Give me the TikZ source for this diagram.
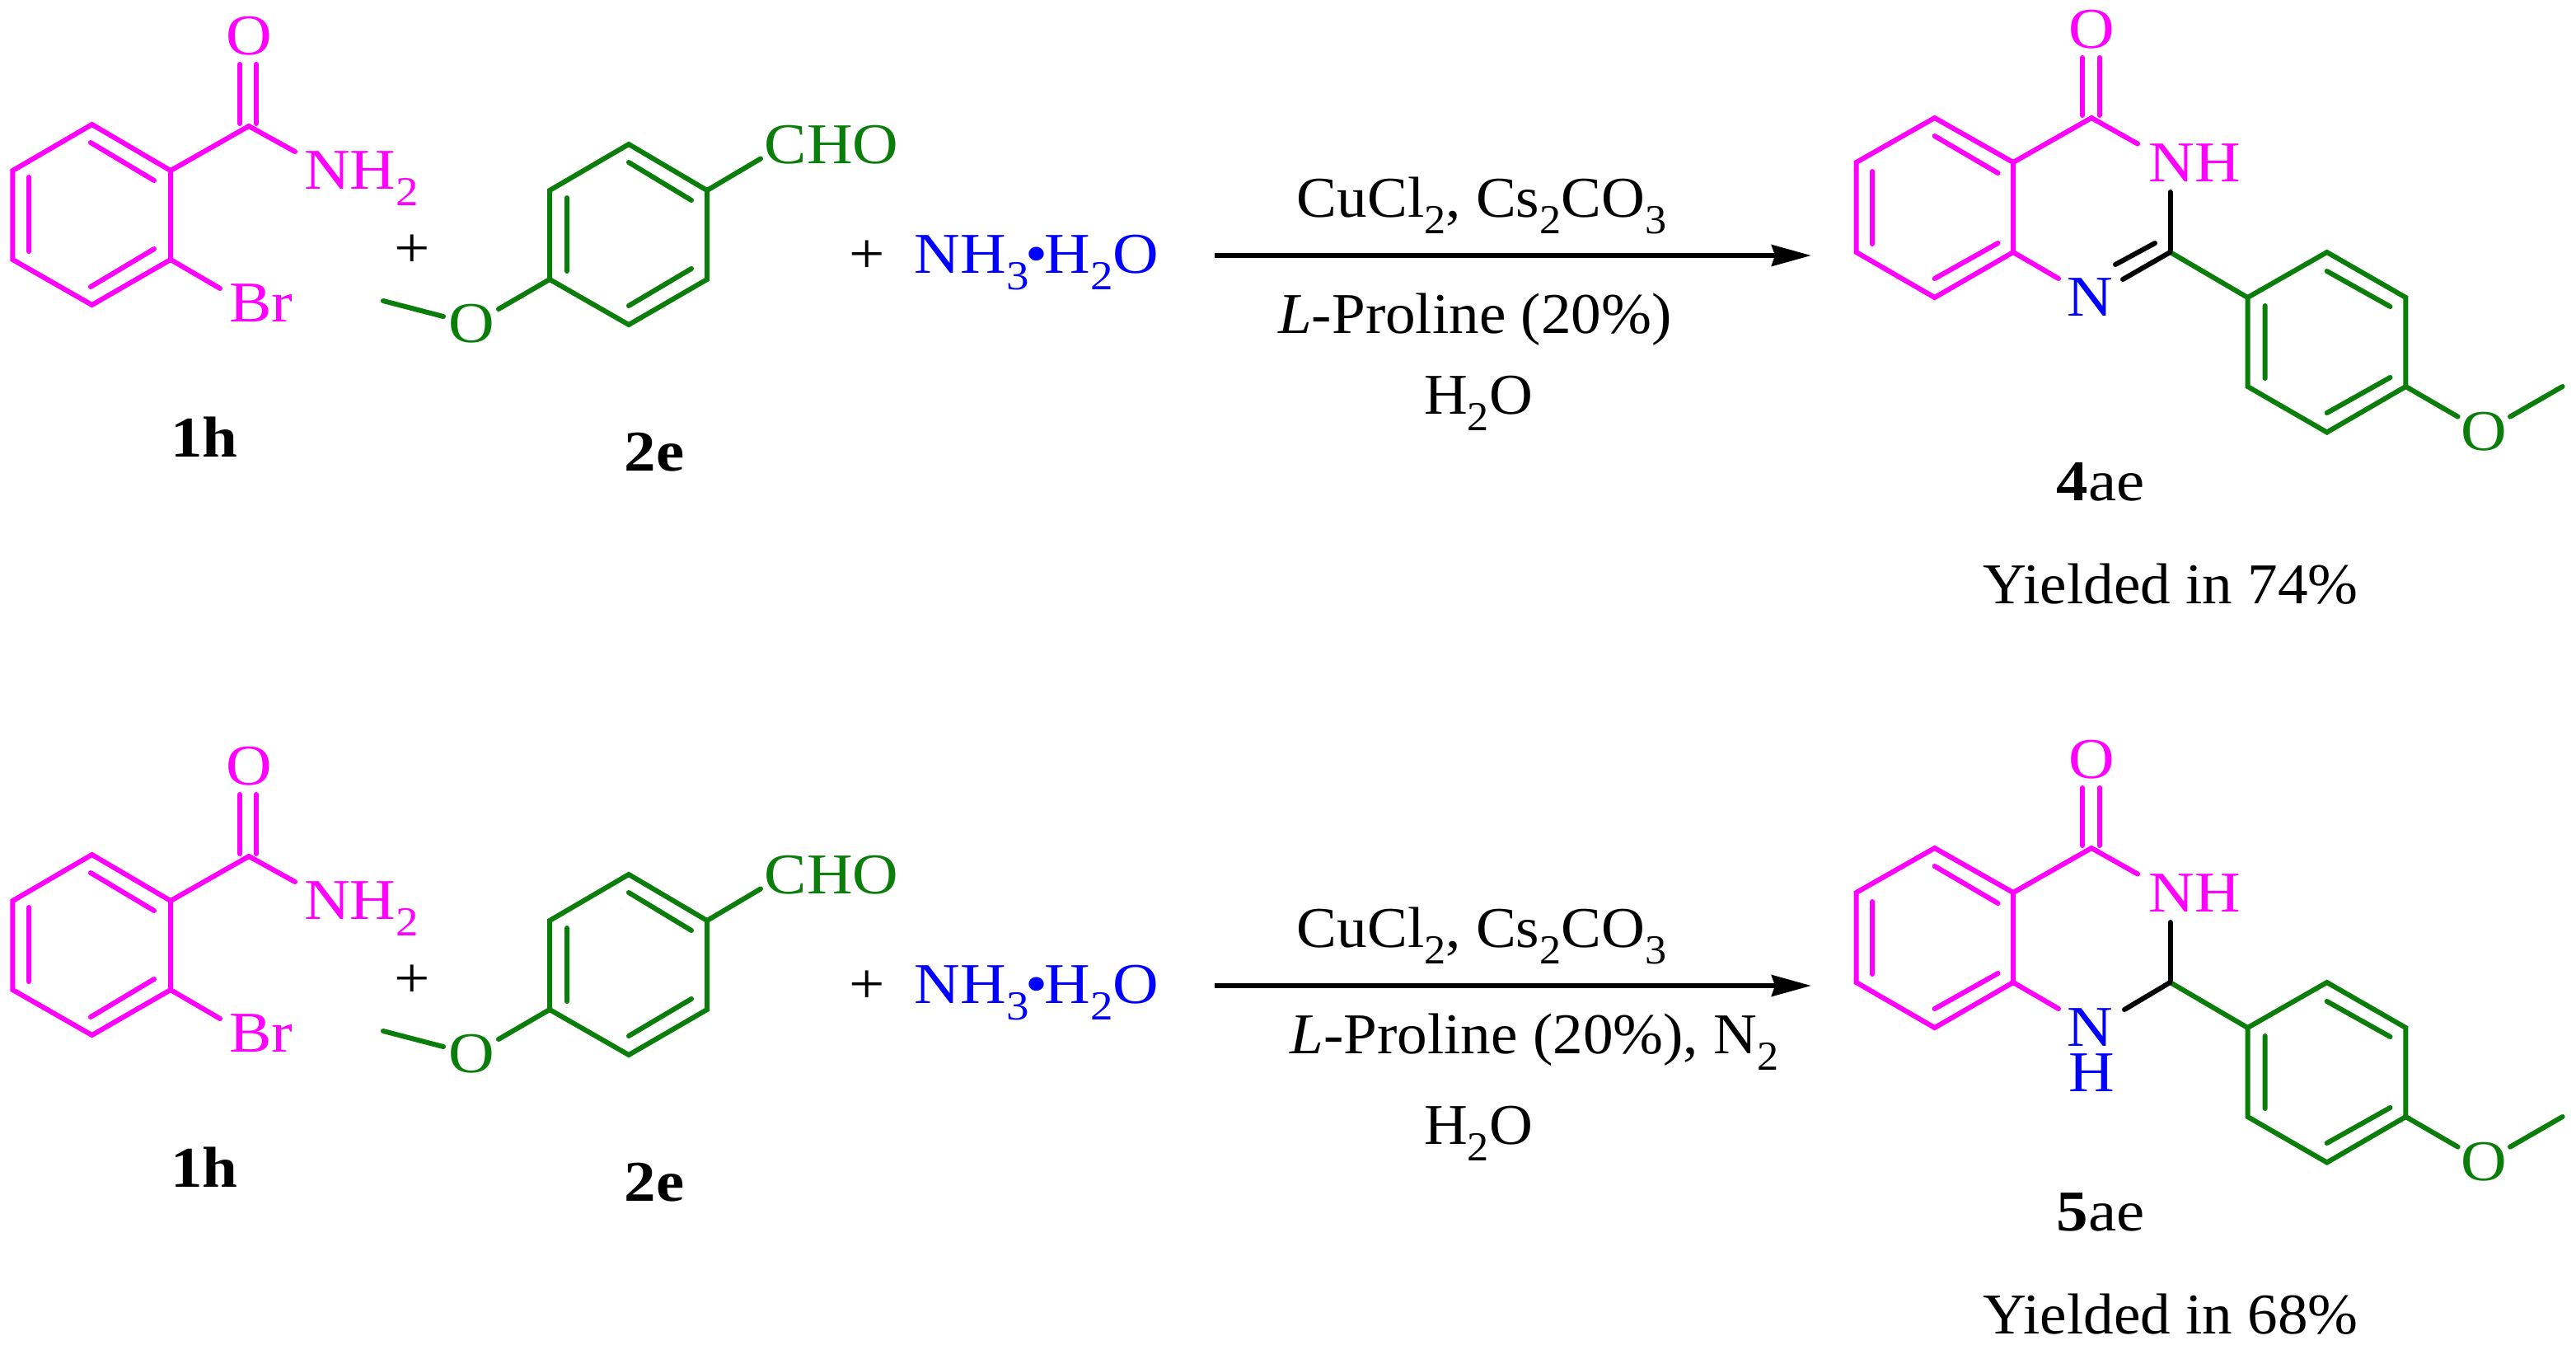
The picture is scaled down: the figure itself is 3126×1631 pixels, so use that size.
\documentclass[tikz,border=0pt]{standalone}
\usepackage{fontspec}
\setmainfont[FakeStretch=1.1]{Liberation Serif}
\newfontfamily\txtfont[FakeStretch=1.045]{Liberation Serif}
\usetikzlibrary{arrows.meta}
\definecolor{cmag}{RGB}{255,0,255}
\definecolor{cgrn}{RGB}{10,125,10}
\definecolor{cblu}{RGB}{0,0,255}
\newcommand{\sbs}[1]{\raisebox{-5pt}{\fontsize{12.5pt}{12.5pt}\selectfont #1}}
\tikzset{
  lab/.style={anchor=base,inner sep=0pt,outer sep=0pt,font=\fontsize{17.5pt}{20pt}\selectfont},
  txt/.style={lab,font=\fontsize{17.5pt}{20pt}\selectfont\txtfont},
  bond/.style={line width=1.5pt,line cap=round,line join=miter},
  mag/.style={bond,draw=cmag},
  grn/.style={bond,draw=cgrn},
  blk/.style={bond,draw=black},
  rxn/.style={line width=1.5pt,draw=black,-{Stealth[length=12pt,width=6.4pt,inset=1pt]}}
}
\newcommand{\commonrow}{%
  % reactant 1h
  \coordinate (r1) at (111.6,151); \coordinate (r2) at (207,207); \coordinate (r3) at (207,315);
  \coordinate (r4) at (111.6,370); \coordinate (r5) at (15.4,315); \coordinate (r6) at (15.4,207);
  \coordinate (cc) at (302,153);
  \draw[mag] (r1)--(r2)--(r3)--(r4)--(r5)--(r6)--cycle;
  \draw[mag] (110,173)--(187,219) (35,215)--(35,305) (110,348)--(187,302);
  \draw[mag] (r2)--(cc);
  \draw[mag] (291,78)--(291,150) (311,78)--(311,150);
  \coordinate (nhend) at (358,184); \coordinate (brend) at (267,350);
  \draw[mag] (cc)--(nhend);
  \draw[mag] (r3)--(brend);
  \node[lab,text=cmag] (oa) at (302,66) {O};
  \node[lab,text=cmag] (nh2) at (438.5,229) {NH\sbs{2}};
  \node[lab,text=cmag] (br) at (316.5,390) {Br};
  \node[lab] (p1) at (500,324) {+};
  \node[lab,font=\fontsize{17.5pt}{20pt}\selectfont\bfseries] (l1h) at (248,554) {1h};
  % reactant 2e
  \coordinate (s1) at (763,175); \coordinate (s2) at (858,231); \coordinate (s3) at (858,339);
  \coordinate (s4) at (763,394); \coordinate (s5) at (667,339); \coordinate (s6) at (667,231);
  \draw[grn] (s1)--(s2)--(s3)--(s4)--(s5)--(s6)--cycle;
  \draw[grn] (763,197)--(839,243) (688,240)--(688,329) (763,371)--(839,326);
  \coordinate (choend) at (923,192.5); \coordinate (oend) at (605,375);
  \coordinate (me) at (465,365); \coordinate (omeend) at (538,384);
  \draw[grn] (s2)--(choend);
  \draw[grn] (s5)--(oend);
  \draw[grn] (me)--(omeend);
  \node[lab,text=cgrn] (cho) at (1009,198) {CHO};
  \node[lab,text=cgrn] (ob) at (572,415) {O};
  \node[lab,font=\fontsize{17.5pt}{20pt}\selectfont\bfseries] (l2e) at (794,571) {2e};
  \node[lab] (p2) at (1052,331) {+};
  \node[lab,text=cblu] (amm) at (1258,331) {NH\sbs{3}\kern-1pt\textbullet\kern-1pt H\sbs{2}O};
  % arrow
  \coordinate (ar1) at (1474,310); \coordinate (ar2) at (2198,310);
  \draw[rxn] (ar1)--(ar2);
  \node[txt] (cond1) at (1798,263) {CuCl\sbs{2}, Cs\sbs{2}CO\sbs{3}};
  \node[txt] (cond3) at (1794,502) {H\sbs{2}O};
  % product
  \coordinate (a1) at (2347.7,143); \coordinate (a2) at (2443,197); \coordinate (a3) at (2443,306);
  \coordinate (a4) at (2347.7,361); \coordinate (a5) at (2252.6,306); \coordinate (a6) at (2252.6,197);
  \coordinate (c4) at (2538,143); \coordinate (c2) at (2633.5,306);
  \draw[mag] (a1)--(a2)--(a3)--(a4)--(a5)--(a6)--cycle;
  \draw[mag] (2347.7,165)--(2424.5,210) (2272,208)--(2272,296) (2347.7,338)--(2424.5,295);
  \draw[mag] (a2)--(c4);
  \draw[mag] (2527,70)--(2527,140) (2548,70)--(2548,140);
  \coordinate (nhe) at (2594,174.5); \coordinate (ne) at (2498,338); \coordinate (nhb) at (2633.5,233);
  \draw[mag] (c4)--(nhe);
  \draw[mag] (a3)--(ne);
  \draw[blk] (nhb)--(c2);
  \coordinate (b1) at (2727.5,361); \coordinate (b2) at (2823.7,306); \coordinate (b3) at (2919.4,361);
  \coordinate (b4) at (2919.4,469); \coordinate (b5) at (2823.7,524.5); \coordinate (b6) at (2727.5,469);
  \draw[grn] (c2)--(b1);
  \draw[grn] (b1)--(b2)--(b3)--(b4)--(b5)--(b6)--cycle;
  \draw[grn] (2823.7,329)--(2900.5,372) (2748.7,371)--(2748.7,459) (2823.7,501)--(2900.5,458);
  \coordinate (oe1) at (2982.6,505.6); \coordinate (oe2) at (3046,505.6); \coordinate (ome) at (3109.6,469);
  \draw[grn] (b4)--(oe1);
  \draw[grn] (oe2)--(ome);
  \node[lab,text=cmag] (oc) at (2538,58) {O};
  \node[lab,text=cmag] (nh) at (2663,220) {NH};
  \node[lab,text=cgrn] (od) at (3014,546) {O};
  \node[lab,text=cblu] (n) at (2536,383) {N};
}
\begin{document}
\begin{tikzpicture}[x=0.25pt,y=-0.25pt]
\useasboundingbox (0,0) rectangle (3126,1631);
\begin{scope}[name prefix=a-]
  \commonrow
  \node[txt] (cond2) at (1790,404) {\textit{L}-Proline (20\%)};
  \node[lab] (name) at (2549,607) {\textbf{4}ae};
  \node[txt] (yld) at (2634,732) {Yielded in 74\%};
  \coordinate (ne2) at (2576,339); \coordinate (d1) at (2615,295); \coordinate (d2) at (2567,321);
  \draw[blk] (c2)--(ne2);
  \draw[blk] (d1)--(d2);
\end{scope}
\begin{scope}[shift={(0,886)},name prefix=b-]
  \commonrow
  \node[txt] (cond2) at (1862,392) {\textit{L}-Proline (20\%), N\sbs{2}};
  \node[lab] (name) at (2549,607) {\textbf{5}ae};
  \node[txt] (yld) at (2634,732) {Yielded in 68\%};
  \node[lab,text=cblu] (h) at (2538,438) {H};
  \coordinate (ne2) at (2578,339);
  \draw[blk] (c2)--(ne2);
\end{scope}
\end{tikzpicture}
\end{document}
